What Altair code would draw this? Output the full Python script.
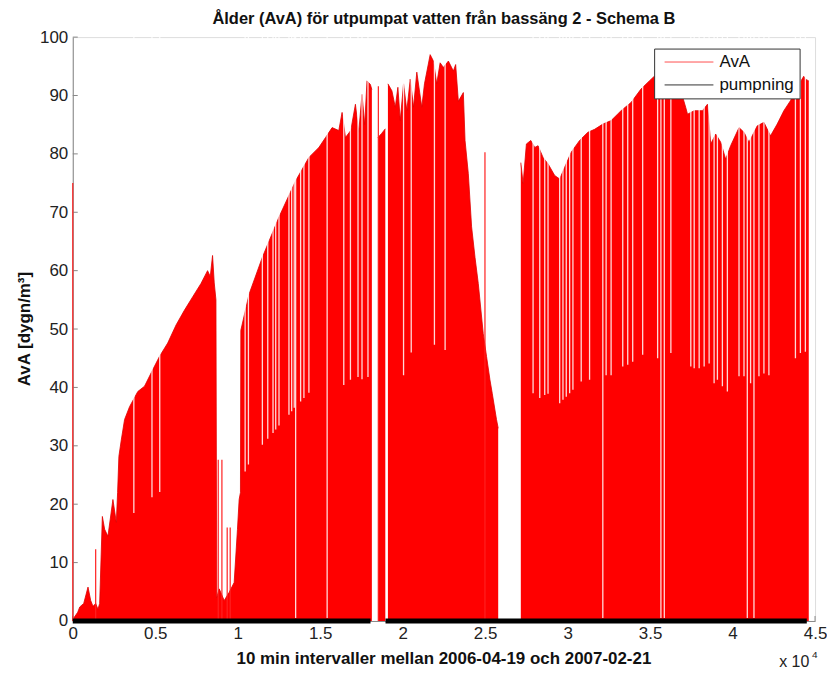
import altair as alt
import pandas as pd

# ---------------- data ----------------
# upper envelope of the AvA signal, in contiguous segments (x = 10-min interval index)
seg1_x = [60, 302, 423, 664, 924, 1087, 1226, 1389, 1528, 1631, 1794, 1933, 2132, 2434, 2640, 2718,
          2797, 2942, 3141, 3443, 3944, 4349, 4754, 5255, 5756, 6264, 6765, 7266, 7774, 8173, 8336,
          8475, 8577, 8680, 8728, 8879, 9181, 9483, 9785, 9985, 10087, 10166, 10190, 10691, 11495,
          12503, 13512, 14316, 14920, 15324, 15723, 16128, 16327, 16532, 16852, 17136, 17336, 17535,
          17698, 17837, 18042, 18133]
seg1_y = [0.5, 1.5, 2.4, 3.0, 5.8, 3.5, 2.5, 3.0, 2.0, 3.0, 17.9, 15.7, 14.5, 20.8, 16.9, 22.0,
          28.2, 31.0, 34.5, 36.7, 39.3, 40.2, 42.5, 45.3, 47.6, 50.7, 53.2, 55.5, 57.8, 60.0, 59.0,
          62.6, 57.9, 55.0, 4.0, 5.5, 3.5, 4.9, 6.6, 15.7, 20.8, 22.0, 49.8, 56.0, 62.3,
          69.2, 75.4, 79.4, 81.1, 82.8, 84.5, 84.0, 87.1, 82.8, 84.0, 88.5, 83.7, 90.2,
          85.0, 92.5, 91.9, 91.0]
seg2_x = [18501, 18725, 18948]
seg2_y = [82.8, 83.5, 84.3]
seg3_x = [19106, 19347, 19552, 19710, 19854, 20054, 20253, 20459, 20658, 20857, 21159, 21322, 21667,
          21866, 22065, 22271, 22470, 22772, 23074, 23213, 23376, 23678, 23781, 23980, 24179, 24385,
          24584, 24886, 25085, 25291, 25430, 25689, 25792]
seg3_y = [92.0, 90.8, 88.0, 91.4, 85.7, 92.0, 87.4, 92.8, 88.0, 94.0, 88.0, 92.0, 97.0,
          95.9, 92.0, 95.6, 94.8, 95.9, 94.2, 95.3, 89.0, 90.5, 82.3, 76.6, 67.5, 62.3,
          57.8, 49.2, 45.3, 41.3, 39.0, 34.5, 33.0]
seg4_x = [27163, 27302, 27501, 27767, 28009, 28208, 28510, 28812, 29217, 29519, 29821, 30220, 30727,
          31228, 31633, 32134, 32636, 33240, 33844, 34448, 34955, 35257, 35759, 36363, 36846, 37166,
          37269, 37673, 38175, 38477, 38676, 38978, 39280, 39582, 39884, 40391, 40693, 40995, 41497,
          41901, 42301, 42705, 43110, 43508, 43913, 44317, 44414, 44619]
seg4_y = [78.5, 74.9, 81.7, 82.3, 81.1, 81.4, 79.4, 78.3, 76.3, 75.7, 77.7, 80.3, 82.3,
          83.7, 84.2, 85.1, 85.7, 87.4, 88.8, 91.1, 92.5, 93.3, 93.5, 92.5, 91.0, 87.9,
          86.8, 87.4, 87.4, 88.5, 81.7, 83.4, 82.0, 79.1, 81.4, 84.5, 83.7, 82.0, 84.8,
          85.4, 83.1, 85.1, 87.4, 89.1, 91.4, 93.3, 92.8, 92.5]

# single isolated AvA samples (thin red spikes)
spike_x = [0, 1389, 8819, 9042, 9362, 9544, 18526, 24989]
spike_y = [75.0, 12.3, 27.6, 27.6, 16.0, 16.0, 91.6, 80.3]

# short dips of AvA (white streaks): index and dip level
dip_x = [3703, 4802, 5273, 10450, 10649, 11495, 11821, 12141, 12304, 12503, 13107, 13271, 13427, 13512,
         13814, 14014, 14316, 15421, 16430, 16834, 17293, 17535, 17897, 20054, 20519, 21926, 22573,
         27906, 28311, 28613, 28812, 29519, 29718, 29918, 30123, 30322, 30824, 31331, 32134, 32334,
         32636, 33342, 33644, 33946, 34550, 35457, 35656, 35861, 36260, 37468, 37673, 37975, 38277,
         38579, 38881, 39081, 39383, 39685, 40391, 40693, 40893, 41093, 41297, 41600, 41901, 42203,
         43811, 44112, 44414]
dip_y = [18.5, 21.2, 22.1, 25.6, 26.8, 30.2, 31.2, 32.2, 32.8, 33.5, 35.3, 35.9, 36.5, 0.5,
         37.6, 38.2, 39.1, 0.5, 40.4, 41.3, 41.8, 41.4, 41.8, 42.1, 46.0, 47.3, 46.4,
         39.0, 38.2, 38.7, 38.9, 37.3, 37.9, 38.4, 39.0, 39.6, 41.0, 41.3, 0.5, 42.1,
         42.1, 43.6, 43.9, 44.4, 45.6, 45.0, 0.5, 0.5, 45.9, 43.6, 43.3, 43.3, 43.6,
         44.1, 40.7, 41.3, 40.2, 39.3, 41.9, 41.9, 0.5, 40.7, 0.5, 41.9, 42.4, 42.1,
         45.0, 45.9, 46.1]

# pumpning series (stays at 0), in segments
pump_x = [0, 18050, 18960, 44500]
pump_seg = ["a", "a", "b", "b"]

x_ticks = [0, 5000, 10000, 15000, 20000, 25000, 30000, 35000, 40000, 45000]
y_ticks = [0, 10, 20, 30, 40, 50, 60, 70, 80, 90, 100]

title_text = "Ålder (AvA) för utpumpat vatten från bassäng 2 - Schema B"
x_title = "10 min intervaller mellan 2006-04-19 och 2007-02-21"
y_title = "AvA [dygn/m³]"
legend_labels = ["AvA", "pumpning"]

# ---------------- tables ----------------
rows = []
for name, xs_, ys_ in [("s1", seg1_x, seg1_y), ("s2", seg2_x, seg2_y),
                       ("s3", seg3_x, seg3_y), ("s4", seg4_x, seg4_y)]:
    for xv, yv in zip(xs_, ys_):
        rows.append({"x": xv, "y": yv, "seg": name})
env = pd.DataFrame(rows)
spikes = pd.DataFrame({"x": spike_x, "y": spike_y, "y0": 0})
dips = pd.DataFrame({"x": dip_x, "y": dip_y, "top": 100})
pump = pd.DataFrame({"x": pump_x, "y": [0] * len(pump_x), "seg": pump_seg})
xt = pd.DataFrame({"x": x_ticks})
yt = pd.DataFrame({"y": y_ticks})
one = pd.DataFrame({"k": [0]})

W, H = 745, 586
FONT = "Liberation Sans"

xs = alt.Scale(domain=[0, 45000], nice=False, zero=False)
ys = alt.Scale(domain=[0, 100], nice=False)

x_axis = alt.Axis(values=x_ticks, labelExpr="datum.value / 10000 + ''", title=None,
                  grid=False, tickSize=0, labelPadding=5, labelFontSize=17, labelFont=FONT,
                  labelColor="#222", domainColor="#888", labelFlush=False)
y_axis = alt.Axis(values=y_ticks, title=None, grid=False, tickSize=0, labelPadding=5,
                  labelFontSize=17, labelFont=FONT, labelColor="#222", domainColor="#888")

X = alt.X("x:Q", scale=xs, axis=x_axis)
Y = alt.Y("y:Q", scale=ys, axis=y_axis)

yticks_layer = alt.Chart(yt).mark_rule(color="#888", strokeWidth=1).encode(
    y=Y, x=alt.value(0), x2=alt.value(5),
)
xticks_layer = alt.Chart(xt).mark_rule(color="#888", strokeWidth=1).encode(
    x=X, y=alt.value(H), y2=alt.value(H - 5),
)

area = alt.Chart(env).mark_area(color="#ff0000", interpolate="linear", opacity=1).encode(
    x=X, y=Y, y2=alt.datum(0), detail="seg:N",
)
edge = alt.Chart(env).mark_line(color="#e00000", strokeWidth=0.8).encode(
    x=X, y=Y, detail="seg:N",
)
spike_layer = alt.Chart(spikes).mark_rule(color="#ff2020", strokeWidth=1.2).encode(
    x=X, y=Y, y2="y0:Q",
)
dip_layer = alt.Chart(dips).mark_rule(color="#ffffff", strokeWidth=1.3, opacity=0.85).encode(
    x=X, y=Y, y2="top:Q",
)
pump_layer = alt.Chart(pump).mark_line(color="#000000", strokeWidth=5).encode(
    x=X, y=Y, detail="seg:N",
)

# legend (drawn by hand, MATLAB style)
leg_box = alt.Chart(one).mark_rect(fill="white", stroke="#333", strokeWidth=1).encode(
    x=alt.value(584), x2=alt.value(730), y=alt.value(12), y2=alt.value(62))
leg_l1 = alt.Chart(one).mark_rule(color="#ff5050", strokeWidth=1).encode(
    x=alt.value(594), x2=alt.value(643), y=alt.value(25))
leg_l2 = alt.Chart(one).mark_rule(color="#333", strokeWidth=1).encode(
    x=alt.value(594), x2=alt.value(643), y=alt.value(48))
leg_t1 = alt.Chart(one).mark_text(text=legend_labels[0], align="left", baseline="middle",
                                  fontSize=17, font=FONT, color="#111").encode(
    x=alt.value(649), y=alt.value(25))
leg_t2 = alt.Chart(one).mark_text(text=legend_labels[1], align="left", baseline="middle",
                                  fontSize=17, font=FONT, color="#111").encode(
    x=alt.value(649), y=alt.value(48))

title_layer = alt.Chart(one).mark_text(text=title_text, align="center", baseline="middle",
                                       fontSize=16.5, fontWeight="bold", font=FONT,
                                       color="#111").encode(x=alt.value(W / 2), y=alt.value(-18))
xtitle_layer = alt.Chart(one).mark_text(text=x_title, align="center", baseline="middle",
                                        fontSize=17, fontWeight="bold", font=FONT,
                                        color="#111").encode(x=alt.value(W / 2), y=alt.value(H + 38))
ytitle_layer = alt.Chart(one).mark_text(text=y_title, align="center", baseline="middle",
                                        fontSize=17, fontWeight="bold", font=FONT, angle=270,
                                        color="#111").encode(x=alt.value(-48), y=alt.value(H / 2))
exp_layer = alt.Chart(one).mark_text(text="x 10", align="left", baseline="middle",
                                     fontSize=16, font=FONT, color="#222").encode(
    x=alt.value(709), y=alt.value(H + 41))
exp4_layer = alt.Chart(one).mark_text(text="4", align="left", baseline="middle",
                                      fontSize=10, font=FONT, color="#222").encode(
    x=alt.value(742), y=alt.value(H + 34))

chart = alt.layer(
    yticks_layer, xticks_layer, area, edge, spike_layer, dip_layer, pump_layer,
    leg_box, leg_l1, leg_l2, leg_t1, leg_t2,
    title_layer, xtitle_layer, ytitle_layer, exp_layer, exp4_layer,
).properties(
    width=W, height=H,
    autosize=alt.AutoSizeParams(type="none"),
    padding={"left": 65, "top": 28, "right": 12, "bottom": 50},
).configure_view(stroke=None).configure(background="white")

chart.save("out.html", embed_options={"renderer": "svg", "actions": False})
